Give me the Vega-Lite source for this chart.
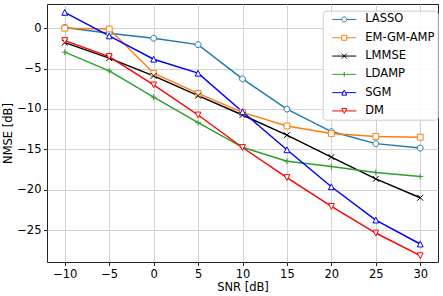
{
  "$schema": "https://vega.github.io/schema/vega-lite/v6.json",
  "width": 391,
  "height": 258,
  "autosize": {"type": "none"},
  "padding": {"left": 47, "top": 4, "right": 5, "bottom": 34},
  "config": {
    "font": "DejaVu Sans",
    "view": {"stroke": "#222", "strokeWidth": 1},
    "axis": {
      "domain": false,
      "grid": true,
      "gridColor": "#d3d3d3",
      "gridWidth": 1,
      "tickColor": "#222",
      "tickSize": 3.5,
      "tickWidth": 1,
      "labelFont": "DejaVu Sans",
      "labelFontSize": 11.5,
      "labelColor": "#000",
      "labelPadding": 2.5,
      "titleFont": "DejaVu Sans",
      "titleFontSize": 11.5,
      "titleFontWeight": "normal",
      "titleColor": "#000"
    },
    "legend": {
      "orient": "none",
      "legendX": 275.7,
      "legendY": 6.7,
      "padding": 3,
      "fillColor": "rgba(255,255,255,0.85)",
      "strokeColor": "#cccccc",
      "cornerRadius": 3,
      "labelFontSize": 11.5,
      "labelFont": "DejaVu Sans",
      "labelColor": "#000",
      "symbolSize": 25,
      "symbolStrokeWidth": 1,
      "symbolFillColor": "white",
      "symbolOffset": 12.8,
      "labelOffset": 15.2,
      "rowPadding": 5.3
    }
  },
  "data": {
    "values": [
      {"snr": -10, "nmse": 0.1, "method": "LASSO"},
      {"snr": -5, "nmse": -0.62, "method": "LASSO"},
      {"snr": 0, "nmse": -1.24, "method": "LASSO"},
      {"snr": 5, "nmse": -2.03, "method": "LASSO"},
      {"snr": 10, "nmse": -6.28, "method": "LASSO"},
      {"snr": 15, "nmse": -10.02, "method": "LASSO"},
      {"snr": 20, "nmse": -12.8, "method": "LASSO"},
      {"snr": 25, "nmse": -14.3, "method": "LASSO"},
      {"snr": 30, "nmse": -14.85, "method": "LASSO"},
      {"snr": -10, "nmse": 0.0, "method": "EM-GM-AMP"},
      {"snr": -5, "nmse": -0.1, "method": "EM-GM-AMP"},
      {"snr": 0, "nmse": -5.57, "method": "EM-GM-AMP"},
      {"snr": 5, "nmse": -8.08, "method": "EM-GM-AMP"},
      {"snr": 10, "nmse": -10.42, "method": "EM-GM-AMP"},
      {"snr": 15, "nmse": -12.12, "method": "EM-GM-AMP"},
      {"snr": 20, "nmse": -13.04, "method": "EM-GM-AMP"},
      {"snr": 25, "nmse": -13.41, "method": "EM-GM-AMP"},
      {"snr": 30, "nmse": -13.5, "method": "EM-GM-AMP"},
      {"snr": -10, "nmse": -1.78, "method": "LMMSE"},
      {"snr": -5, "nmse": -3.7, "method": "LMMSE"},
      {"snr": 0, "nmse": -5.9, "method": "LMMSE"},
      {"snr": 5, "nmse": -8.36, "method": "LMMSE"},
      {"snr": 10, "nmse": -10.75, "method": "LMMSE"},
      {"snr": 15, "nmse": -13.25, "method": "LMMSE"},
      {"snr": 20, "nmse": -15.96, "method": "LMMSE"},
      {"snr": 25, "nmse": -18.66, "method": "LMMSE"},
      {"snr": 30, "nmse": -21.0, "method": "LMMSE"},
      {"snr": -10, "nmse": -2.97, "method": "LDAMP"},
      {"snr": -5, "nmse": -5.28, "method": "LDAMP"},
      {"snr": 0, "nmse": -8.54, "method": "LDAMP"},
      {"snr": 5, "nmse": -11.7, "method": "LDAMP"},
      {"snr": 10, "nmse": -14.75, "method": "LDAMP"},
      {"snr": 15, "nmse": -16.48, "method": "LDAMP"},
      {"snr": 20, "nmse": -17.14, "method": "LDAMP"},
      {"snr": 25, "nmse": -17.87, "method": "LDAMP"},
      {"snr": 30, "nmse": -18.37, "method": "LDAMP"},
      {"snr": -10, "nmse": 1.96, "method": "SGM"},
      {"snr": -5, "nmse": -0.95, "method": "SGM"},
      {"snr": 0, "nmse": -3.84, "method": "SGM"},
      {"snr": 5, "nmse": -5.57, "method": "SGM"},
      {"snr": 10, "nmse": -10.35, "method": "SGM"},
      {"snr": 15, "nmse": -15.06, "method": "SGM"},
      {"snr": 20, "nmse": -19.64, "method": "SGM"},
      {"snr": 25, "nmse": -23.76, "method": "SGM"},
      {"snr": 30, "nmse": -26.73, "method": "SGM"},
      {"snr": -10, "nmse": -1.53, "method": "DM"},
      {"snr": -5, "nmse": -3.51, "method": "DM"},
      {"snr": 0, "nmse": -7.02, "method": "DM"},
      {"snr": 5, "nmse": -10.75, "method": "DM"},
      {"snr": 10, "nmse": -14.78, "method": "DM"},
      {"snr": 15, "nmse": -18.5, "method": "DM"},
      {"snr": 20, "nmse": -22.08, "method": "DM"},
      {"snr": 25, "nmse": -25.37, "method": "DM"},
      {"snr": 30, "nmse": -28.18, "method": "DM"}
    ]
  },
  "encoding": {
    "x": {
      "field": "snr",
      "type": "quantitative",
      "title": "SNR [dB]",
      "scale": {"domain": [-12, 32], "nice": false, "zero": false},
      "axis": {"values": [-10, -5, 0, 5, 10, 15, 20, 25, 30], "titlePadding": 2}
    },
    "y": {
      "field": "nmse",
      "type": "quantitative",
      "title": "NMSE [dB]",
      "scale": {"domain": [-28.96, 3.0], "nice": false, "zero": false},
      "axis": {"values": [-25, -20, -15, -10, -5, 0], "titlePadding": 3}
    }
  },
  "layer": [
    {
      "mark": {"type": "line", "strokeWidth": 1.45},
      "encoding": {
        "color": {
          "field": "method",
          "type": "nominal",
          "legend": null,
          "scale": {
            "domain": ["LASSO", "EM-GM-AMP", "LMMSE", "LDAMP", "SGM", "DM"],
            "range": ["#1f77b4", "#ff7f0e", "#000000", "#2ca02c", "#0000ff", "#ff0000"]
          }
        }
      }
    },
    {
      "mark": {"type": "point", "filled": false, "fill": "white", "size": 34, "strokeWidth": 1, "opacity": 1},
      "encoding": {
        "color": {
          "field": "method",
          "type": "nominal",
          "legend": null,
          "scale": {
            "domain": ["LASSO", "EM-GM-AMP", "LMMSE", "LDAMP", "SGM", "DM"],
            "range": ["#1f77b4", "#ff7f0e", "#000000", "#2ca02c", "#0000ff", "#ff0000"]
          }
        },
        "shape": {
          "field": "method",
          "type": "nominal",
          "legend": null,
          "scale": {
            "domain": ["LASSO", "EM-GM-AMP", "LMMSE", "LDAMP", "SGM", "DM"],
            "range": ["M1,0A1,1,0,1,1,-1,0A1,1,0,1,1,1,0Z", "M-1,-1H1V1H-1Z", "M-1,-1L1,1M-1,1L1,-1", "M-1,0H1M0,-1V1", "M0,-1L-1,1L1,1Z", "M0,1L-1,-1L1,-1Z"]
          }
        }
      }
    },
    {
      "transform": [{"filter": "datum.snr > 1000"}],
      "mark": {"type": "point", "filled": false, "fill": "white", "size": 25, "strokeWidth": 1, "opacity": 1},
      "encoding": {
        "color": {
          "field": "method",
          "type": "nominal",
          "title": null,
          "scale": {
            "domain": ["LASSO", "EM-GM-AMP", "LMMSE", "LDAMP", "SGM", "DM"],
            "range": ["#1f77b4", "#ff7f0e", "#000000", "#2ca02c", "#0000ff", "#ff0000"]
          }
        },
        "shape": {
          "field": "method",
          "type": "nominal",
          "title": null,
          "scale": {
            "domain": ["LASSO", "EM-GM-AMP", "LMMSE", "LDAMP", "SGM", "DM"],
            "range": ["M-4.8,0H-1M1,0H4.8M1,0A1,1,0,1,1,-1,0A1,1,0,1,1,1,0Z", "M-4.8,0H-1M1,0H4.8M-1,-1H1V1H-1Z", "M-4.8,0H4.8M-1,-1L1,1M-1,1L1,-1", "M-4.8,0H4.8M0,-1V1", "M-4.8,0H-0.5M0.5,0H4.8M0,-1L-1,1L1,1Z", "M-4.8,0H-0.5M0.5,0H4.8M0,1L-1,-1L1,-1Z"]
          }
        }
      }
    }
  ],
  "resolve": {"scale": {"color": "independent", "shape": "independent"}}
}
